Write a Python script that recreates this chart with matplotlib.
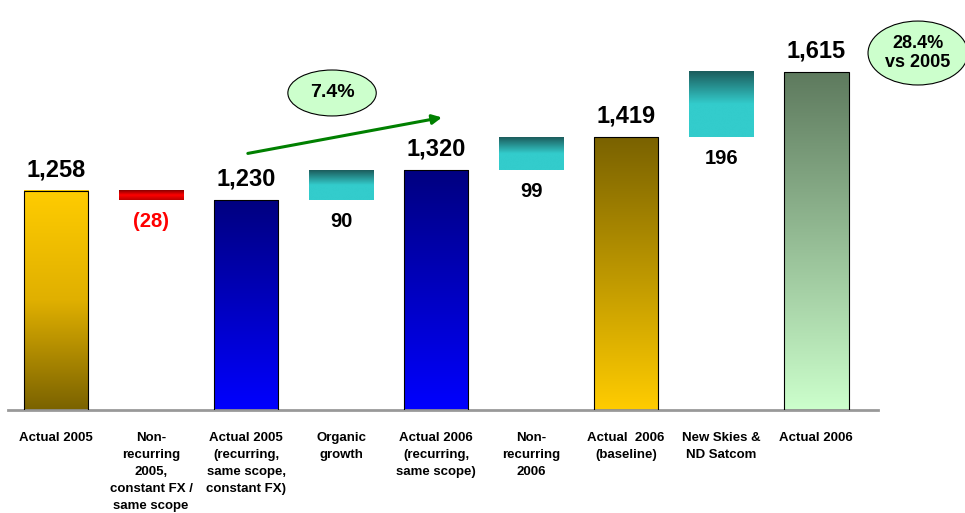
import matplotlib.pyplot as plt
import numpy as np
import matplotlib.patches as patches
from matplotlib.colors import LinearSegmentedColormap

plt.rcParams['font.family'] = ['Liberation Sans', 'DejaVu Sans']

categories = ["Actual 2005",
              "Non-\nrecurring\n2005,\nconstant FX /\nsame scope",
              "Actual 2005\n(recurring,\nsame scope,\nconstant FX)",
              "Organic\ngrowth",
              "Actual 2006\n(recurring,\nsame scope)",
              "Non-\nrecurring\n2006",
              "Actual  2006\n(baseline)",
              "New Skies &\nND Satcom",
              "Actual 2006"]
values = [1258, -28, 1230, 90, 1320, 99, 1419, 196, 1615]
is_total = [True, False, True, False, True, False, True, False, True]
labels = ["1,258", "(28)", "1,230", "90", "1,320", "99", "1,419", "196", "1,615"]
growth_label = "7.4%"
vs_label = "28.4%\nvs 2005"

# gradient colours, top -> bottom
grad = {
    0: ["#FFCC00", "#E0B000", "#7A6200"],
    1: ["#880000", "#FF0000", "#BB0000"],
    2: ["#000080", "#0000FF"],
    3: ["#1C5C5C", "#33CCCC", "#33CCCC"],
    4: ["#000080", "#0000FF"],
    5: ["#1C5C5C", "#33CCCC", "#33CCCC"],
    6: ["#7A6200", "#FFCC00"],
    7: ["#1C5C5C", "#33CCCC", "#33CCCC"],
    8: ["#5E7A5E", "#CCFFCC"],
}

base = 600
fig = plt.figure(figsize=(9.65, 5.13), dpi=100)
ax = fig.add_axes([8/965, 103/513, 870/965, 410/513])

w = 0.68
running = 0
for i, v in enumerate(values):
    if is_total[i]:
        lo, hi = base, v
        running = v
    else:
        lo, hi = sorted([running, running + v])
        running = running + v
    cmap = LinearSegmentedColormap.from_list("g%d" % i, grad[i])
    g = np.linspace(1, 0, 256).reshape(-1, 1)
    ax.imshow(g, cmap=cmap, extent=(i - w/2, i + w/2, lo, hi),
              aspect='auto', origin='lower', zorder=2)
    if is_total[i]:
        ax.add_patch(patches.Rectangle((i - w/2, lo), w, hi - lo, fill=False,
                                       ec='black', lw=0.8, zorder=3))
        ax.annotate(labels[i], (i, hi), xytext=(0, 15), textcoords='offset points',
                    ha='center', va='center', fontsize=17, fontweight='bold')
    else:
        col = 'red' if v < 0 else 'black'
        ax.annotate(labels[i], (i, lo), xytext=(0, -15), textcoords='offset points',
                    ha='center', va='center', fontsize=14.5, fontweight='bold', color=col)

ax.set_aspect('auto')
ax.set_xlim(-0.505, 8.65)
ax.set_ylim(base, base + 410/0.333)

for s in ['top', 'right', 'left']:
    ax.spines[s].set_visible(False)
ax.spines['bottom'].set_color('#999999')
ax.spines['bottom'].set_linewidth(2)
ax.set_yticks([])
ax.set_xticks(range(len(categories)))
ax.set_xticklabels(categories, fontsize=9.5, fontweight='bold', linespacing=1.55)
ax.tick_params(axis='x', length=0, pad=16)

# growth arrow and callouts
ax.annotate("", xy=(4.09, 1480), xytext=(1.99, 1369),
            arrowprops=dict(arrowstyle='-|>', color='#008000', lw=2.2,
                            mutation_scale=14), zorder=4)
ax.add_patch(patches.Ellipse((2.905, 1552), 0.93, 138, fc='#CCFFCC', ec='black',
                             lw=0.8, zorder=4))
ax.text(2.905, 1552, growth_label, ha='center', va='center', fontsize=14,
        fontweight='bold', zorder=5)
ax.add_patch(patches.Ellipse((9.07, 1672), 1.05, 192, fc='#CCFFCC', ec='black',
                             lw=0.8, zorder=4, clip_on=False))
ax.text(9.07, 1672, vs_label, ha='center', va='center', fontsize=13,
        fontweight='bold', zorder=5, linespacing=1.1)

fig.savefig("out.png", dpi=100)
